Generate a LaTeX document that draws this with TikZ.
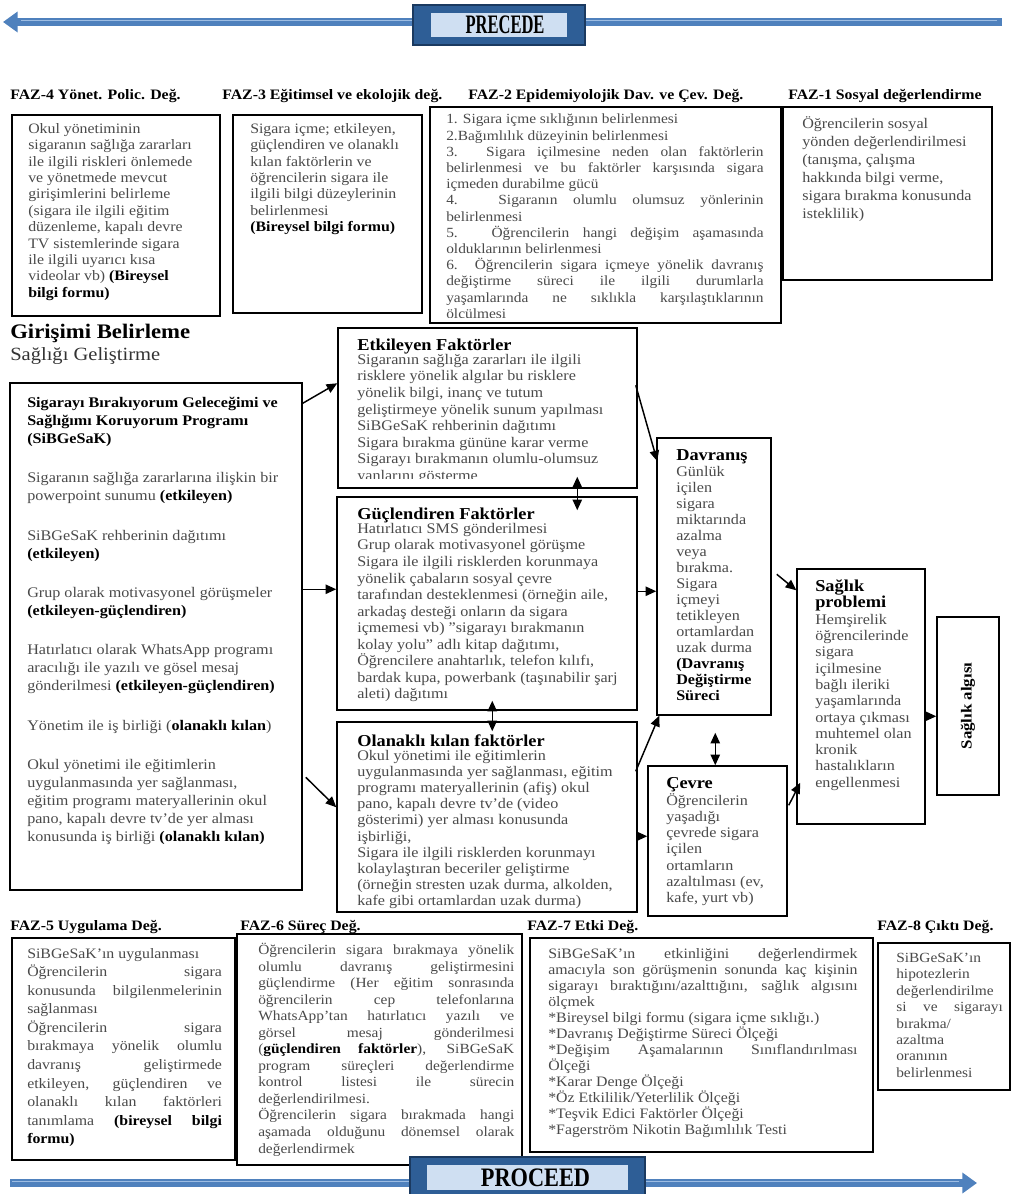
\documentclass[tikz,border=0pt]{standalone}
\usepackage{fontspec}
\usepackage{graphicx}
\setmainfont{Liberation Serif}[FakeStretch=1.1]
\newfontfamily\bannerfont{Liberation Serif}[FakeStretch=0.62]
\usetikzlibrary{arrows.meta,calc,fit}
\definecolor{bodyg}{HTML}{4A4A4A}
\definecolor{bannerdark}{HTML}{2E5E96}
\definecolor{bannerborder}{HTML}{1B3A60}
\definecolor{bannerlight}{HTML}{CFDFF2}
\definecolor{arrowblue}{HTML}{4F81BD}
\definecolor{arrowlight}{HTML}{9DBDE3}
\setlength{\parindent}{0pt}
\tolerance=10000 \hbadness=10000 \vbadness=10000
\newcommand{\kb}[1]{\textcolor{black}{\bfseries #1}}
\tikzset{
 box/.style={draw=black, line width=1.1pt, inner sep=0pt},
 body/.style={anchor=north west, inner sep=0pt, text=bodyg, align=left},
 just/.style={anchor=north west, inner sep=0pt, text=bodyg, align=justify},
 fazhd/.style={anchor=west, inner sep=0pt, font=\fontsize{10.8}{12}\selectfont\bfseries},
 midhd/.style={anchor=west, inner sep=0pt, font=\fontsize{12.5}{12}\selectfont\bfseries},
 arr/.style={line width=1.1pt, -{Triangle[length=8pt,width=7pt]}},
 darr/.style={line width=1.1pt, {Triangle[length=8pt,width=7pt]}-{Triangle[length=8pt,width=7pt]}},
 banarrow/.style={line width=6.5pt, draw=arrowblue, -{Triangle[length=11pt,width=15pt]}},
 banhl/.style={line width=1.3pt, draw=arrowlight},
 banout/.style={inner sep=0pt, fill=bannerdark, draw=bannerborder, line width=1pt},
 banin/.style={inner sep=0pt, fill=bannerlight},
 bantxt/.style={inner sep=0pt, font=\bannerfont\fontsize{20}{22}\selectfont\bfseries},
}
\begin{document}
\begin{tikzpicture}[x=0.75pt,y=-0.75pt]
\useasboundingbox (0,0) rectangle (1011,1194);
\fill[white] (0,0) rectangle (1011,1194);

% ---------- PRECEDE banner
\coordinate (topL) at (3,22);
\coordinate (topR) at (1002,22);
\draw[banarrow] (topR) -- (topL);
\draw[banhl] ($(topR)+(-5,-1.5)$) -- ($(topL)+(18,-1.5)$);
\node[banout, fit={(413,5)(585,45)}] (precede) {};
\node[banin, fit={(431,13)(567,37)}] (precin) {};
\node[bantxt] (prectxt) at ($(precin.center)+(6,0)$) {PRECEDE};

% ---------- FAZ headers top
\node[fazhd] (h4) at (10,96) {FAZ-4 Yönet. Polic. Değ.};
\node[fazhd] (h3) at (222,96) {FAZ-3 Eğitimsel ve ekolojik değ.};
\node[fazhd] (h2) at (468,96) {FAZ-2 Epidemiyolojik Dav. ve Çev. Değ.};
\node[fazhd] (h1) at (788,96) {FAZ-1 Sosyal değerlendirme};

% ---------- top boxes
\node[box, fit={(12,115)(220,316)}] (f4) {};
\node[box, fit={(233,115)(422,313)}] (f3) {};
\node[box, fit={(430,107)(781,323)}] (f2) {};
\node[box, fit={(783,107)(992,280)}] (f1) {};

\node[body, font=\fontsize{10.8}{12.3}\selectfont] (t4) at (28,123) {Okul yönetiminin\\sigaranın sağlığa zararları\\ile ilgili riskleri önlemede\\ve yönetmede mevcut\\girişimlerini belirleme\\(sigara ile ilgili eğitim\\düzenleme, kapalı devre\\TV sistemlerinde sigara\\ile ilgili uyarıcı kısa\\videolar vb) \kb{(Bireysel}\\\kb{bilgi formu)}};

\node[body, font=\fontsize{10.8}{12.3}\selectfont] (t3) at (250,123) {Sigara içme; etkileyen,\\güçlendiren ve olanaklı\\kılan faktörlerin ve\\öğrencilerin sigara ile\\ilgili bilgi düzeylerinin\\belirlenmesi\\\kb{(Bireysel bilgi formu)}};

\begin{scope}
\clip (f2.north west) rectangle ($(f2.south east)+(0,-6)$);
\node[just, text width=238pt, font=\fontsize{10.5}{12.15}\selectfont] (t2) at (446,114) {1. Sigara içme sıklığının belirlenmesi\par 2.Bağımlılık düzeyinin belirlenmesi\par 3. Sigara içilmesine neden olan faktörlerin\linebreak belirlenmesi ve bu faktörler karşısında sigara\linebreak içmeden durabilme gücü\par 4. Sigaranın olumlu olumsuz yönlerinin\linebreak belirlenmesi\par 5. Öğrencilerin hangi değişim aşamasında\linebreak olduklarının belirlenmesi\par 6. Öğrencilerin sigara içmeye yönelik davranış\linebreak değiştirme süreci ile ilgili durumlarla\linebreak yaşamlarında ne sıklıkla karşılaştıklarının\linebreak ölçülmesi\par};
\end{scope}

\node[body, font=\fontsize{11}{13.5}\selectfont] (t1) at (802,116) {Öğrencilerin sosyal\\yönden değerlendirilmesi\\(tanışma, çalışma\\hakkında bilgi verme,\\sigara bırakma konusunda\\isteklilik)};

% ---------- title
\node[anchor=west, inner sep=0pt, font=\fontsize{15.5}{18}\selectfont\bfseries] (gir) at (10,333) {Girişimi Belirleme};
\node[anchor=west, inner sep=0pt, font=\fontsize{14}{16}\selectfont, text=black!80] (sgl) at (10,356) {Sağlığı Geliştirme};

% ---------- program box
\node[box, fit={(10,383)(302,890)}] (prog) {};
\node[body, font=\fontsize{11}{13.5}\selectfont] (tprog) at (27,397) {\kb{Sigarayı Bırakıyorum Geleceğimi ve}\\\kb{Sağlığımı Koruyorum Programı}\\\kb{(SiBGeSaK)}\\[16pt]Sigaranın sağlığa zararlarına ilişkin bir\\powerpoint sunumu \kb{(etkileyen)}\\[16pt]SiBGeSaK rehberinin dağıtımı\\\kb{(etkileyen)}\\[16pt]Grup olarak motivasyonel görüşmeler\\\kb{(etkileyen-güçlendiren)}\\[16pt]Hatırlatıcı olarak WhatsApp programı\\aracılığı ile yazılı ve gösel mesaj\\gönderilmesi \kb{(etkileyen-güçlendiren)}\\[16pt]Yönetim ile iş birliği (\kb{olanaklı kılan})\\[16pt]Okul yönetimi ile eğitimlerin\\uygulanmasında yer sağlanması,\\eğitim programı materyallerinin okul\\pano, kapalı devre tv'de yer alması\\konusunda iş birliği \kb{(olanaklı kılan)}};

% ---------- middle factor boxes
\node[box, fit={(338,328)(637,488)}] (etk) {};
\node[box, fit={(337,497)(637,710)}] (guc) {};
\node[box, fit={(337,722)(637,912)}] (ola) {};

\node[midhd] (hetk) at (357,347) {Etkileyen Faktörler};
\begin{scope}
\clip (etk.north west) rectangle ($(etk.south east)+(0,-10)$);
\node[body, font=\fontsize{11}{12.4}\selectfont] (tetk) at (357,354) {Sigaranın sağlığa zararları ile ilgili\\risklere yönelik algılar bu risklere\\yönelik bilgi, inanç ve tutum\\geliştirmeye yönelik sunum yapılması\\SiBGeSaK rehberinin dağıtımı\\Sigara bırakma gününe karar verme\\Sigarayı bırakmanın olumlu-olumsuz\\yanlarını gösterme};
\end{scope}

\node[midhd] (hguc) at (357,515) {Güçlendiren Faktörler};
\node[body, font=\fontsize{11}{12.4}\selectfont] (tguc) at (357,523) {Hatırlatıcı SMS gönderilmesi\\Grup olarak motivasyonel görüşme\\Sigara ile ilgili risklerden korunmaya\\yönelik çabaların sosyal çevre\\tarafından desteklenmesi (örneğin aile,\\arkadaş desteği onların da sigara\\içmemesi vb) "sigarayı bırakmanın\\kolay yolu" adlı kitap dağıtımı,\\Öğrencilere anahtarlık, telefon kılıfı,\\bardak kupa, powerbank (taşınabilir şarj\\aleti) dağıtımı};

\node[midhd] (hola) at (357,741) {Olanaklı kılan faktörler};
\node[body, font=\fontsize{11}{12.1}\selectfont] (tola) at (357,750) {Okul yönetimi ile eğitimlerin\\uygulanmasında yer sağlanması, eğitim\\programı materyallerinin (afiş) okul\\pano, kapalı devre tv'de (video\\gösterimi) yer alması konusunda\\işbirliği,\\Sigara ile ilgili risklerden korunmayı\\kolaylaştıran beceriler geliştirme\\(örneğin stresten uzak durma, alkolden,\\kafe gibi ortamlardan uzak durma)};

% ---------- right boxes
\node[box, fit={(657,438)(771,715)}] (dav) {};
\node[box, fit={(648,766)(787,916)}] (cev) {};
\node[box, fit={(797,569)(925,824)}] (sag) {};
\node[box, fit={(937,617)(999,795)}] (alg) {};

\node[midhd] (hdav) at (676,457) {Davranış};
\node[body, font=\fontsize{11}{12}\selectfont] (tdav) at (676,466) {Günlük\\içilen\\sigara\\miktarında\\azalma\\veya\\bırakma.\\Sigara\\içmeyi\\tetikleyen\\ortamlardan\\uzak durma\\\kb{(Davranış}\\\kb{Değiştirme}\\\kb{Süreci}};

\node[midhd] (hcev) at (666,785) {Çevre};
\node[body, font=\fontsize{11}{12.2}\selectfont] (tcev) at (666,793) {Öğrencilerin\\yaşadığı\\çevrede sigara\\içilen\\ortamların\\azaltılması (ev,\\kafe, yurt vb)};

\node[anchor=north west, inner sep=0pt, align=left, font=\fontsize{12.5}{12}\selectfont\bfseries] (hsag) at (815,579) {Sağlık\\problemi};
\node[body, font=\fontsize{11}{12.2}\selectfont] (tsag) at (815,614) {Hemşirelik\\öğrencilerinde\\sigara\\içilmesine\\bağlı ileriki\\yaşamlarında\\ortaya çıkması\\muhtemel olan\\kronik\\hastalıkların\\engellenmesi};

\node[rotate=90, inner sep=0pt, font=\fontsize{11.5}{14}\selectfont\bfseries] (talg) at (alg.center) {Sağlık algısı};

% ---------- connectors
\draw[arr] ($(prog.north east)+(0,21)$) -- ($(etk.north west)+(0,56)$);
\draw[arr] ($(prog.north east)+(0,207)$) -- ($(guc.north west)+(0,93)$);
\draw[arr] ($(prog.north east)+(3,395)$) -- ($(ola.north west)+(0,86)$);
\draw[darr] ($(etk.south west)+(240,-12)$) -- ($(guc.north west)+(241,14)$);
\draw[darr] ($(guc.south west)+(156,-10)$) -- ($(ola.north west)+(156,10)$);
\draw[arr] ($(etk.north east)+(-2,58)$) -- ($(dav.north west)+(1,24)$);
\draw[arr] ($(guc.north east)+(0,95)$) -- ($(dav.north west)+(0,154)$);
\draw[arr] ($(ola.north east)+(-2,50)$) -- ($(dav.south west)+(3,0)$);
\draw[arr] ($(ola.north east)+(0,115)$) -- ($(cev.north west)+(0,71)$);
\draw[darr] ($(dav.south west)+(59,17)$) -- ($(cev.north west)+(68,0)$);
\draw[arr] ($(dav.north east)+(5,137)$) -- ($(sag.north west)+(0,22)$);
\draw[arr] ($(cev.north east)+(1,40)$) -- ($(sag.south west)+(4,-42)$);
\draw[arr] ($(sag.north east)+(0,148)$) -- ($(alg.north west)+(0,100)$);

% ---------- bottom headers
\node[fazhd] (h5) at (10,927) {FAZ-5 Uygulama Değ.};
\node[fazhd] (h6) at (240,927) {FAZ-6 Süreç Değ.};
\node[fazhd] (h7) at (527,927) {FAZ-7 Etki Değ.};
\node[fazhd] (h8) at (877,927) {FAZ-8 Çıktı Değ.};

% ---------- bottom boxes
\node[box, fit={(12,938)(235,1160)}] (f5) {};
\node[box, fit={(237,934)(522,1165)}] (f6) {};
\node[box, fit={(530,938)(873,1152)}] (f7) {};
\node[box, fit={(878,943)(1010,1090)}] (f8) {};

\node[just, text width=146pt, font=\fontsize{10.8}{13.9}\selectfont] (t5) at (27,948) {SiBGeSaK'ın uygulanması\par Öğrencilerin sigara\linebreak konusunda bilgilenmelerinin\linebreak sağlanması\par Öğrencilerin sigara\linebreak bırakmaya yönelik olumlu\linebreak davranış geliştirmede\linebreak etkileyen, güçlendiren ve\linebreak olanaklı kılan faktörleri\linebreak tanımlama \kb{(bireysel bilgi}\linebreak \kb{formu)}\par};

\node[just, text width=192pt, font=\fontsize{10.5}{12.4}\selectfont] (t6) at (258,943) {Öğrencilerin sigara bırakmaya yönelik\linebreak olumlu davranış geliştirmesini\linebreak güçlendirme (Her eğitim sonrasında\linebreak öğrencilerin cep telefonlarına\linebreak WhatsApp'tan hatırlatıcı yazılı ve\linebreak görsel mesaj gönderilmesi\linebreak (\kb{güçlendiren faktörler}), SiBGeSaK\linebreak program süreçleri değerlendirme\linebreak kontrol listesi ile sürecin\linebreak değerlendirilmesi.\par Öğrencilerin sigara bırakmada hangi\linebreak aşamada olduğunu dönemsel olarak\linebreak değerlendirmek\par};

\node[just, text width=232pt, font=\fontsize{10.8}{12}\selectfont] (t7) at (548,948) {SiBGeSaK'ın etkinliğini değerlendirmek\linebreak amacıyla son görüşmenin sonunda kaç kişinin\linebreak sigarayı bıraktığını/azalttığını, sağlık algısını\linebreak ölçmek\par *Bireysel bilgi formu (sigara içme sıklığı.)\par *Davranış Değiştirme Süreci Ölçeği\par *Değişim Aşamalarının Sınıflandırılması\linebreak Ölçeği\par *Karar Denge Ölçeği\par *Öz Etkililik/Yeterlilik Ölçeği\par *Teşvik Edici Faktörler Ölçeği\par *Fagerström Nikotin Bağımlılık Testi\par};

\node[just, text width=80pt, font=\fontsize{10.5}{12.3}\selectfont] (t8) at (896,953) {SiBGeSaK'ın\par hipotezlerin\par değerlendirilme\par si ve sigarayı\linebreak bırakma/\par azaltma\par oranının\par belirlenmesi\par};

% ---------- PROCEED banner
\coordinate (botL) at (10,1183);
\coordinate (botR) at (977,1183);
\draw[banarrow] (botL) -- (botR);
\draw[banhl] ($(botL)+(2,-1.5)$) -- ($(botR)+(-18,-1.5)$);
\node[banout, fit={(410,1157)(645,1198)}] (proceed) {};
\node[banin, fit={(427,1165)(628,1190)}] (procin) {};
\node[bantxt] (proctxt) at ($(procin.center)+(8,0)$) {\scalebox{1.35}[1]{PROCEED}};
\end{tikzpicture}
\end{document}
